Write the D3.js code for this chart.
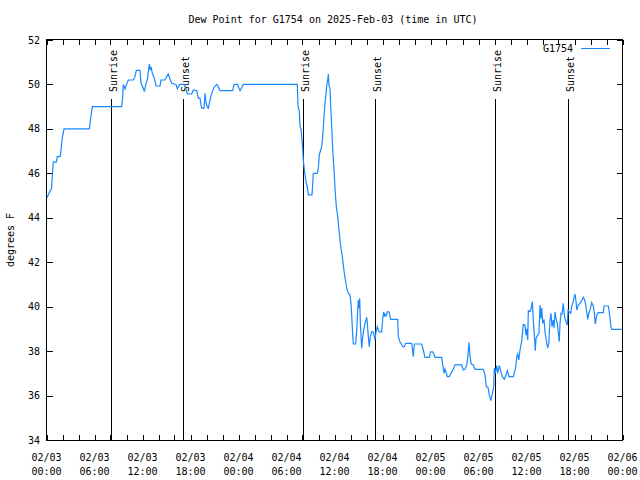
<!DOCTYPE html>
<html><head><meta charset="utf-8">
<script src="https://cdn.jsdelivr.net/npm/d3@7"></script>
<style>
body{margin:0;background:#fff}
svg text{font-family:"DejaVu Sans Mono","Liberation Mono",monospace;font-size:10px;fill:#000}
</style>
</head><body><svg id="c" width="640" height="480"></svg>
<script>
const chartTitle = "Dew Point for G1754 on 2025-Feb-03 (time in UTC)";
const seriesName = "G1754";
const yAxisLabel = "degrees F";
const yTickValues = [34,36,38,40,42,44,46,48,50,52];
const startUTC = Date.UTC(2025,1,3,0,0);
const endUTC = Date.UTC(2025,1,6,0,0);
// hours since 2025-02-03 00:00 UTC
const hours = [0.06,0.44,0.63,0.73,0.85,1.23,1.35,1.69,1.78,1.85,1.98,2.19,5.35,5.53,5.73,9.4,9.53,9.6,9.81,9.94,10.23,10.85,11.06,11.23,11.69,11.81,12.1,12.23,12.44,12.6,12.85,12.94,13.06,13.23,13.48,13.69,14.19,14.31,14.81,15.03,15.23,15.44,15.65,16.19,16.35,16.48,16.69,17.19,17.44,17.6,18.15,18.35,18.78,18.98,19.19,19.28,19.4,19.69,19.81,19.94,20.1,20.23,20.44,20.65,20.94,21.28,21.48,21.69,23.28,23.44,23.85,24.03,24.19,24.4,24.6,31.35,31.44,31.6,31.69,31.81,31.9,32.03,32.1,32.19,32.28,32.35,32.44,32.6,32.73,33.19,33.28,33.35,33.85,33.98,34.1,34.28,34.4,34.48,34.6,34.69,34.81,34.94,35.03,35.15,35.23,35.31,35.44,35.53,35.65,35.78,35.94,36.1,36.23,36.4,36.56,36.69,36.81,36.98,37.1,37.23,37.4,37.53,37.73,37.94,38.06,38.15,38.28,38.35,38.65,38.78,38.9,38.98,39.06,39.15,39.23,39.4,39.53,39.65,39.81,39.94,40.03,40.1,40.23,40.35,40.48,40.65,40.85,40.98,41.06,41.19,41.35,41.48,41.6,41.9,42.03,42.15,42.23,42.31,42.44,42.6,42.81,43.03,43.9,43.98,44.19,44.31,44.53,44.73,44.9,45.65,45.73,45.85,45.98,46.9,47.1,47.31,47.85,48.02,48.27,48.44,48.56,49.4,49.53,49.69,49.81,49.94,50.1,50.35,50.56,50.85,51.06,51.9,52.1,52.31,52.53,52.65,52.81,52.94,53.1,53.35,53.56,54.6,54.81,54.98,55.19,55.35,55.53,55.65,55.9,55.98,56.1,56.28,56.4,56.6,56.78,56.98,57.23,57.44,57.6,57.81,58.35,58.56,58.69,58.78,58.9,59.03,59.19,59.4,59.53,59.6,59.81,59.94,60.03,60.15,60.23,60.44,60.56,60.73,60.85,60.98,61.1,61.19,61.4,61.56,61.69,61.81,61.9,62.03,62.19,62.31,62.53,62.65,62.78,62.94,63.06,63.19,63.35,63.44,63.56,63.69,63.85,63.98,64.1,64.19,64.31,64.44,64.6,64.73,64.81,64.94,65.1,65.19,65.35,65.53,65.65,65.78,65.94,66.06,66.19,66.28,66.48,66.69,66.9,67.1,67.23,67.35,67.53,67.65,67.78,67.94,68.15,68.35,68.48,68.6,68.78,68.98,69.6,69.69,70.23,70.31,70.44,70.56,70.65,71.9];
const dewF = [44.9,45.2,45.3,45.9,46.5,46.5,46.75,46.75,46.9,47.2,47.6,48.0,48.0,48.5,49.0,49.0,49.5,50.0,49.8,49.95,50.2,50.2,50.35,50.63,50.63,50.05,49.83,49.68,50.05,50.2,50.92,50.65,50.8,50.5,50.28,49.93,49.93,50.2,50.2,50.35,50.47,50.23,50.05,50.0,49.8,49.9,50.0,50.0,49.8,49.57,49.57,49.75,49.72,49.38,49.38,49.15,48.93,48.93,49.6,49.2,48.98,48.93,49.3,49.6,49.87,50.0,49.9,49.72,49.72,50.0,50.0,49.85,49.72,49.85,50.0,50.0,49.0,48.8,48.1,48.0,47.65,47.05,46.6,46.3,46.0,45.85,45.62,45.4,45.03,45.03,45.55,46.0,46.0,46.23,46.83,47.05,47.2,47.5,48.03,48.55,49.15,49.6,49.97,50.2,50.47,49.97,49.8,49.0,48.1,47.05,46.15,45.1,44.5,44.05,43.45,43.0,42.63,42.25,41.87,41.5,41.12,40.83,40.6,40.52,40.15,39.62,38.73,38.32,38.32,38.95,39.85,40.3,39.93,40.38,39.25,38.13,38.65,38.95,39.25,39.4,39.52,39.25,38.65,38.2,38.65,38.87,38.87,38.65,38.5,38.87,39.1,38.95,38.87,38.87,39.47,39.77,39.55,39.65,39.58,39.77,39.77,39.43,39.43,38.65,38.4,38.35,38.2,38.2,38.35,38.35,38.13,37.75,38.32,38.32,38.05,37.72,37.72,37.97,37.97,37.85,37.72,37.72,37.38,37.0,37.2,37.05,36.85,36.85,37.0,37.18,37.38,37.38,37.15,37.18,37.38,37.68,38.4,37.75,37.42,37.38,37.18,37.18,36.93,36.4,36.37,36.03,35.77,35.95,36.37,37.23,37.0,37.35,37.0,37.35,37.1,36.85,36.73,36.93,37.12,36.85,36.85,37.12,37.38,37.75,37.87,37.6,38.05,38.45,38.95,39.2,39.17,38.72,39.0,38.5,39.82,39.78,39.88,40.23,39.4,38.72,38.02,38.57,38.72,38.8,40.07,39.47,39.95,39.25,39.43,38.87,38.35,38.13,38.35,39.4,39.7,39.1,39.4,39.03,39.77,39.47,39.25,38.8,38.43,39.25,39.7,39.67,40.15,39.62,39.47,39.32,39.17,39.85,39.78,39.7,40.0,40.15,40.38,40.57,40.23,39.85,40.08,40.15,40.27,40.42,40.33,40.18,39.77,39.43,39.7,39.85,40.18,40.03,39.7,39.22,39.62,39.73,39.73,40.03,40.03,39.85,39.48,39.1,38.98,38.98];
const sunEventHours = [8.07,17.1,32.08,41.1,56.0,65.13];
const sunEventLabels = ["Sunrise","Sunset","Sunrise","Sunset","Sunrise","Sunset"];

const svg = d3.select("#c");
const L=46.5, R=622.5, T=40, B=440;
const x = d3.scaleUtc().domain([new Date(startUTC), new Date(endUTC)]).range([L,R]);
const y = d3.scaleLinear().domain([34,52]).range([B,T]);
const hr = h => new Date(startUTC + h*3600000);

// frame
svg.append("rect").attr("x",L).attr("y",T-0.5).attr("width",R-L).attr("height",B-T+1)
  .attr("fill","none").attr("stroke","#000").attr("stroke-width",1).attr("shape-rendering","crispEdges");

// x ticks (every 2h), labels every 6h
const minorTicks = d3.utcHour.every(2).range(new Date(startUTC), new Date(endUTC+1));
const majorTicks = d3.utcHour.every(6).range(new Date(startUTC), new Date(endUTC+1));
const tg = svg.append("g").attr("stroke","#000").attr("shape-rendering","crispEdges");
minorTicks.forEach(d=>{
  const xx = Math.round(x(d))+0.5;
  tg.append("line").attr("x1",xx).attr("x2",xx).attr("y1",B).attr("y2",B-5);
  tg.append("line").attr("x1",xx).attr("x2",xx).attr("y1",T).attr("y2",T+5);
});
yTickValues.forEach(v=>{
  const yy = Math.round(y(v))+0.5;
  tg.append("line").attr("x1",L).attr("x2",L+6).attr("y1",yy).attr("y2",yy);
  tg.append("line").attr("x1",R).attr("x2",R-6).attr("y1",yy).attr("y2",yy);
});
const fDate = d3.utcFormat("%m/%d"), fTime = d3.utcFormat("%H:%M");
majorTicks.forEach(d=>{
  const t = svg.append("text").attr("text-anchor","middle");
  t.append("tspan").attr("x",x(d)).attr("y",461).text(fDate(d));
  t.append("tspan").attr("x",x(d)).attr("y",475).text(fTime(d));
});
yTickValues.forEach(v=>{
  svg.append("text").attr("x",40).attr("y",y(v)).attr("dy","0.35em").attr("text-anchor","end").text(v);
});

// title & axis label
svg.append("text").attr("x",333).attr("y",23).attr("text-anchor","middle").text(chartTitle);
svg.append("text").attr("transform","translate(14,240) rotate(-90)").attr("text-anchor","middle").text(yAxisLabel);

// sunrise/sunset lines
sunEventHours.forEach((h,i)=>{
  const xx = Math.round(x(hr(h)))+0.5;
  svg.append("line").attr("x1",xx).attr("x2",xx).attr("y1",B).attr("y2",99)
    .attr("stroke","#000").attr("stroke-width",1).attr("shape-rendering","crispEdges");
  svg.append("text").attr("transform",`translate(${xx+5},92) rotate(-90)`).attr("text-anchor","start").text(sunEventLabels[i]);
});

// data line
const n = Math.min(hours.length, dewF.length);
const pts = d3.range(n).map(i=>({t:hr(hours[i]), v:dewF[i]}));
svg.append("path").datum(pts)
  .attr("d", d3.line().x(d=>x(d.t)).y(d=>y(d.v)))
  .attr("fill","none").attr("stroke","#1a88ff").attr("stroke-width",1.2);

// legend
svg.append("text").attr("x",573).attr("y",52).attr("text-anchor","end").text(seriesName);
svg.append("line").attr("x1",581).attr("x2",610).attr("y1",48.5).attr("y2",48.5)
  .attr("stroke","#1a88ff").attr("stroke-width",1).attr("shape-rendering","crispEdges");
</script>
</body></html>
